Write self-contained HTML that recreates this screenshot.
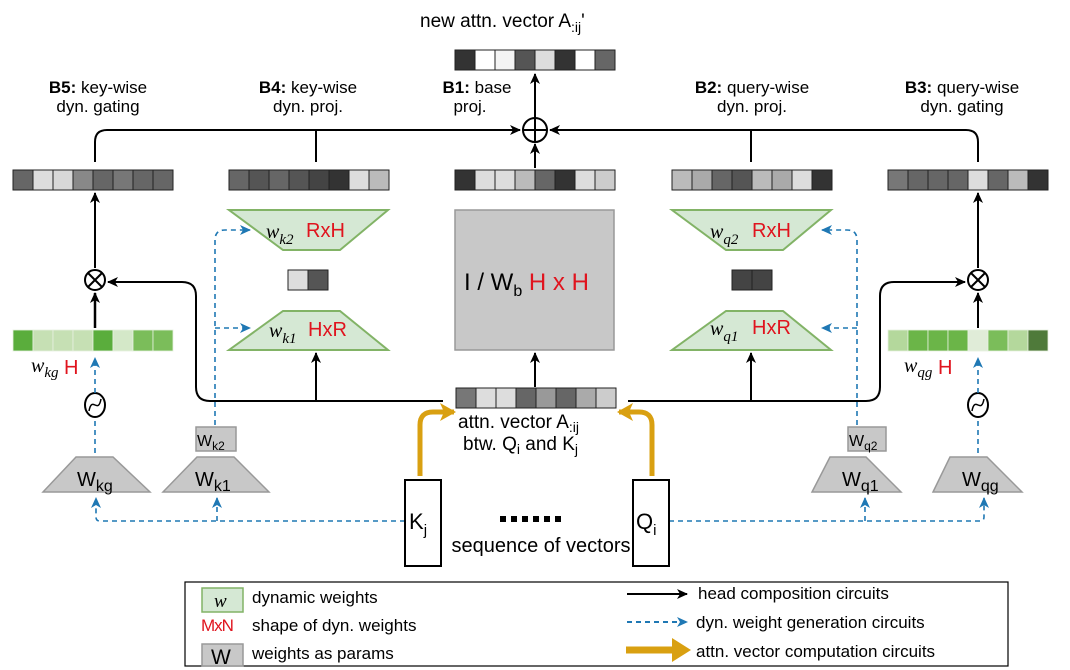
<!DOCTYPE html>
<html><head><meta charset="utf-8"><style>
body{margin:0;background:#fff;}
svg{display:block;font-family:"Liberation Sans",sans-serif;}
.it{font-family:"Liberation Serif",serif;font-style:italic;}
</style></head><body>
<svg width="1070" height="670" viewBox="0 0 1070 670">
<defs>
<marker id="ab" markerWidth="12" markerHeight="12" refX="10" refY="6" orient="auto" markerUnits="userSpaceOnUse"><path d="M0,1 L11,6 L0,11 L3,6 z" fill="#000"/></marker>
<marker id="abl" markerWidth="12" markerHeight="12" refX="10" refY="6" orient="auto" markerUnits="userSpaceOnUse"><path d="M0,1 L11,6 L0,11 L3,6 z" fill="#1f78b4"/></marker>
<marker id="ao" markerWidth="16" markerHeight="18" refX="14" refY="9" orient="auto" markerUnits="userSpaceOnUse"><path d="M0,0 L16,9 L0,18 L4,9 z" fill="#d9a011"/></marker>
</defs>
<g fill="none" stroke="#000" stroke-width="2">
<path d="M95,162 V142 Q95,130 107,130 H520" marker-end="url(#ab)"/>
<path d="M978,162 V142 Q978,130 966,130 H550" marker-end="url(#ab)"/>
<path d="M316,162 V130 M751,162 V130"/>
<path d="M535,118 V74" marker-end="url(#ab)"/>
<path d="M535,168 V144" marker-end="url(#ab)"/>
<path d="M95,268 V193" marker-end="url(#ab)"/>
<path d="M978,268 V193" marker-end="url(#ab)"/>
<path d="M95,328 V293" marker-end="url(#ab)" stroke-width="2.5"/>
<path d="M978,328 V293" marker-end="url(#ab)"/>
<path d="M443,401 H210 Q196,401 196,387 V296 Q196,282 182,282 H108" marker-end="url(#ab)"/>
<path d="M628,401 H866 Q880,401 880,387 V296 Q880,282 894,282 H965" marker-end="url(#ab)"/>
<path d="M316,401 V353" marker-end="url(#ab)"/>
<path d="M751,401 V353" marker-end="url(#ab)"/>
<path d="M535,387 V353" marker-end="url(#ab)"/>
</g>
<circle cx="535" cy="130" r="12" fill="#fff" stroke="#000" stroke-width="2"/>
<path d="M523,130 H547 M535,118 V142" stroke="#000" stroke-width="2"/>
<g stroke="#000" stroke-width="2" fill="#fff">
<circle cx="95" cy="280" r="10"/><path d="M88,273 L102,287 M102,273 L88,287"/>
<circle cx="978" cy="280" r="10"/><path d="M971,273 L985,287 M985,273 L971,287"/>
<ellipse cx="95" cy="405" rx="10" ry="12"/><path d="M89,411 C92,395 98,415 101,399" fill="none" stroke-width="1.5"/>
<ellipse cx="978" cy="405" rx="10" ry="12"/><path d="M972,411 C975,395 981,415 984,399" fill="none" stroke-width="1.5"/>
</g>
<g stroke="#222" stroke-width="1">
<g transform="translate(455,50)"><rect width="20" height="20" fill="#333"/><rect x="20" width="20" height="20" fill="#fff"/><rect x="40" width="20" height="20" fill="#f4f4f4"/><rect x="60" width="20" height="20" fill="#555"/><rect x="80" width="20" height="20" fill="#ddd"/><rect x="100" width="20" height="20" fill="#333"/><rect x="120" width="20" height="20" fill="#fff"/><rect x="140" width="20" height="20" fill="#666"/></g>
<g transform="translate(13,170)"><rect width="20" height="20" fill="#666"/><rect x="20" width="20" height="20" fill="#ddd"/><rect x="40" width="20" height="20" fill="#d8d8d8"/><rect x="60" width="20" height="20" fill="#888"/><rect x="80" width="20" height="20" fill="#666"/><rect x="100" width="20" height="20" fill="#777"/><rect x="120" width="20" height="20" fill="#666"/><rect x="140" width="20" height="20" fill="#666"/></g>
<g transform="translate(229,170)"><rect width="20" height="20" fill="#666"/><rect x="20" width="20" height="20" fill="#555"/><rect x="40" width="20" height="20" fill="#666"/><rect x="60" width="20" height="20" fill="#555"/><rect x="80" width="20" height="20" fill="#444"/><rect x="100" width="20" height="20" fill="#333"/><rect x="120" width="20" height="20" fill="#ddd"/><rect x="140" width="20" height="20" fill="#bbb"/></g>
<g transform="translate(455,170)"><rect width="20" height="20" fill="#333"/><rect x="20" width="20" height="20" fill="#ddd"/><rect x="40" width="20" height="20" fill="#ddd"/><rect x="60" width="20" height="20" fill="#bbb"/><rect x="80" width="20" height="20" fill="#666"/><rect x="100" width="20" height="20" fill="#333"/><rect x="120" width="20" height="20" fill="#ddd"/><rect x="140" width="20" height="20" fill="#ccc"/></g>
<g transform="translate(672,170)"><rect width="20" height="20" fill="#bbb"/><rect x="20" width="20" height="20" fill="#aaa"/><rect x="40" width="20" height="20" fill="#666"/><rect x="60" width="20" height="20" fill="#555"/><rect x="80" width="20" height="20" fill="#bbb"/><rect x="100" width="20" height="20" fill="#aaa"/><rect x="120" width="20" height="20" fill="#ddd"/><rect x="140" width="20" height="20" fill="#333"/></g>
<g transform="translate(888,170)"><rect width="20" height="20" fill="#777"/><rect x="20" width="20" height="20" fill="#666"/><rect x="40" width="20" height="20" fill="#666"/><rect x="60" width="20" height="20" fill="#666"/><rect x="80" width="20" height="20" fill="#ddd"/><rect x="100" width="20" height="20" fill="#666"/><rect x="120" width="20" height="20" fill="#bbb"/><rect x="140" width="20" height="20" fill="#333"/></g>
<g transform="translate(288,270)"><rect width="20" height="20" fill="#ddd"/><rect x="20" width="20" height="20" fill="#555"/></g>
<g transform="translate(732,270)"><rect width="20" height="20" fill="#444"/><rect x="20" width="20" height="20" fill="#444"/></g>
<g transform="translate(456,388)"><rect width="20" height="20" fill="#777"/><rect x="20" width="20" height="20" fill="#ddd"/><rect x="40" width="20" height="20" fill="#ddd"/><rect x="60" width="20" height="20" fill="#666"/><rect x="80" width="20" height="20" fill="#999"/><rect x="100" width="20" height="20" fill="#666"/><rect x="120" width="20" height="20" fill="#aaa"/><rect x="140" width="20" height="20" fill="#ccc"/></g>
</g>
<g stroke="#e6f0e0" stroke-width="0.8">
<g transform="translate(13,330)"><rect width="20" height="21" fill="#5aad3c"/><rect x="20" width="20" height="21" fill="#c6e0b4"/><rect x="40" width="20" height="21" fill="#c6e0b4"/><rect x="60" width="20" height="21" fill="#c6e0b4"/><rect x="80" width="20" height="21" fill="#5aad3c"/><rect x="100" width="20" height="21" fill="#d4e8c8"/><rect x="120" width="20" height="21" fill="#7bbd5a"/><rect x="140" width="20" height="21" fill="#7bbd5a"/></g>
<g transform="translate(888,330)"><rect width="20" height="21" fill="#b4d89c"/><rect x="20" width="20" height="21" fill="#6bb548"/><rect x="40" width="20" height="21" fill="#6bb548"/><rect x="60" width="20" height="21" fill="#6bb548"/><rect x="80" width="20" height="21" fill="#e0ecd8"/><rect x="100" width="20" height="21" fill="#7bbd5a"/><rect x="120" width="20" height="21" fill="#b4d89c"/><rect x="140" width="20" height="21" fill="#4f7a3a"/></g>
</g>
<g fill="#d5e8d4" stroke="#82b366" stroke-width="2">
<polygon points="229,210 388,210 340,250 283,250"/>
<polygon points="283,311 340,311 388,350 229,350"/>
<polygon points="672,210 831,210 783,250 726,250"/>
<polygon points="726,311 783,311 831,350 672,350"/>
</g>
<rect x="455" y="210" width="159" height="140" fill="#c8c8c8" stroke="#999" stroke-width="1.5"/>
<text x="464" y="290" font-size="24">I / W<tspan font-size="16" dy="6">b</tspan><tspan fill="#e0141e" dy="-6"> H x H</tspan></text>
<g font-size="20"><text x="266" y="238" class="it">w<tspan font-size="15" dy="6">k2</tspan></text><text x="306" y="237" fill="#e0141e">RxH</text>
<text x="269" y="337" class="it">w<tspan font-size="15" dy="6">k1</tspan></text><text x="308" y="336" fill="#e0141e">HxR</text>
<text x="710" y="238" class="it">w<tspan font-size="15" dy="6">q2</tspan></text><text x="752" y="237" fill="#e0141e">RxH</text>
<text x="710" y="335" class="it">w<tspan font-size="15" dy="6">q1</tspan></text><text x="752" y="334" fill="#e0141e">HxR</text>
<text x="31" y="372" class="it">w<tspan font-size="15" dy="5">kg</tspan></text><text x="64" y="374" fill="#e0141e">H</text>
<text x="904" y="372" class="it">w<tspan font-size="15" dy="5">qg</tspan></text><text x="938" y="374" fill="#e0141e">H</text></g>
<g fill="none" stroke="#1f78b4" stroke-width="1.6" stroke-dasharray="5,4">
<path d="M95,453 V418 M95,393 V358" marker-end="url(#abl)"/>
<path d="M978,453 V418 M978,393 V358" marker-end="url(#abl)"/>
<path d="M215,425 V240 Q215,230 225,230 H250" marker-end="url(#abl)"/>
<path d="M215,328 H250" marker-end="url(#abl)"/>
<path d="M857,425 V240 Q857,230 847,230 H822" marker-end="url(#abl)"/>
<path d="M857,328 H822" marker-end="url(#abl)"/>
<path d="M405,521 H100 Q96,521 96,517 V498" marker-end="url(#abl)"/>
<path d="M217,521 V498" marker-end="url(#abl)"/>
<path d="M669,521 H980 Q984,521 984,517 V498" marker-end="url(#abl)"/>
<path d="M865,521 V498" marker-end="url(#abl)"/>
</g>
<g fill="#c8c8c8" stroke="#999" stroke-width="1.5">
<rect x="196" y="427" width="40" height="24"/>
<rect x="848" y="427" width="38" height="24"/>
<polygon points="76,457 113,457 150,492 43,492"/>
<polygon points="197,457 234,457 269,492 163,492"/>
<polygon points="830,457 866,457 901,492 812,492"/>
<polygon points="950,457 987,457 1022,492 933,492"/>
</g>
<g font-size="20"><text x="77" y="486">W<tspan font-size="16" dy="5">kg</tspan></text>
<text x="195" y="486">W<tspan font-size="16" dy="5">k1</tspan></text>
<text x="842" y="486">W<tspan font-size="16" dy="5">q1</tspan></text>
<text x="962" y="486">W<tspan font-size="16" dy="5">qg</tspan></text></g>
<g font-size="16"><text x="197" y="446">W<tspan font-size="12" dy="4">k2</tspan></text>
<text x="849" y="446">W<tspan font-size="12" dy="4">q2</tspan></text></g>
<g fill="none" stroke="#d9a011" stroke-width="5">
<path d="M420,476 V425 Q420,412 433,412 H454" marker-end="url(#ao)"/>
<path d="M652,476 V425 Q652,412 639,412 H619" marker-end="url(#ao)"/>
</g>
<rect x="405" y="480" width="36" height="86" fill="none" stroke="#000" stroke-width="2"/>
<rect x="633" y="480" width="36" height="86" fill="none" stroke="#000" stroke-width="2"/>
<g font-size="22"><text x="409" y="529">K<tspan font-size="15" dy="6">j</tspan></text><text x="636" y="529">Q<tspan font-size="15" dy="6">i</tspan></text></g>
<g fill="#000"><rect x="500" y="516" width="6" height="6"/><rect x="511" y="516" width="6" height="6"/><rect x="522" y="516" width="6" height="6"/><rect x="533" y="516" width="6" height="6"/><rect x="544" y="516" width="6" height="6"/><rect x="555" y="516" width="6" height="6"/></g>
<text x="541" y="552" font-size="20" text-anchor="middle">sequence of vectors</text>
<text x="458" y="428" font-size="19">attn. vector A<tspan font-size="14" dy="4">:ij</tspan></text>
<text x="463" y="450" font-size="19">btw. Q<tspan font-size="14" dy="4">i</tspan><tspan dy="-4"> and K</tspan><tspan font-size="14" dy="4">j</tspan></text>
<text x="420" y="27" font-size="19">new attn. vector A<tspan font-size="14" dy="5">:ij</tspan><tspan dy="-5">'</tspan></text>
<g font-size="17" text-anchor="middle">
<text x="98" y="93"><tspan font-weight="bold">B5:</tspan> key-wise</text><text x="98" y="112">dyn. gating</text>
<text x="308" y="93"><tspan font-weight="bold">B4:</tspan> key-wise</text><text x="308" y="112">dyn. proj.</text>
<text x="477" y="93"><tspan font-weight="bold">B1:</tspan> base</text><text x="470" y="112">proj.</text>
<text x="752" y="93"><tspan font-weight="bold">B2:</tspan> query-wise</text><text x="752" y="112">dyn. proj.</text>
<text x="962" y="93"><tspan font-weight="bold">B3:</tspan> query-wise</text><text x="962" y="112">dyn. gating</text>
</g>
<rect x="185" y="582" width="823" height="84" fill="#fff" stroke="#000" stroke-width="1.2"/>
<rect x="202" y="588" width="41" height="24" fill="#d5e8d4" stroke="#82b366" stroke-width="1.5"/>
<text x="214" y="607" font-size="19" class="it">w</text>
<text x="201" y="631" font-size="17" fill="#e0141e" letter-spacing="-1">MxN</text>
<rect x="202" y="644" width="41" height="22" fill="#c8c8c8" stroke="#999" stroke-width="1.5"/>
<text x="211" y="664" font-size="21">W</text>
<g font-size="17">
<text x="252" y="603">dynamic weights</text>
<text x="252" y="631">shape of dyn. weights</text>
<text x="252" y="659">weights as params</text>
<text x="698" y="599">head composition circuits</text>
<text x="696" y="628">dyn. weight generation circuits</text>
<text x="696" y="657">attn. vector computation circuits</text>
</g>
<path d="M627,594 H687" stroke="#000" stroke-width="2" marker-end="url(#ab)"/>
<path d="M627,622 H687" stroke="#1f78b4" stroke-width="2" stroke-dasharray="5,4" marker-end="url(#abl)"/>
<path d="M626,650 H680" stroke="#d9a011" stroke-width="7"/>
<polygon points="672,638 691,650 672,662" fill="#d9a011"/>
</svg>
</body></html>
